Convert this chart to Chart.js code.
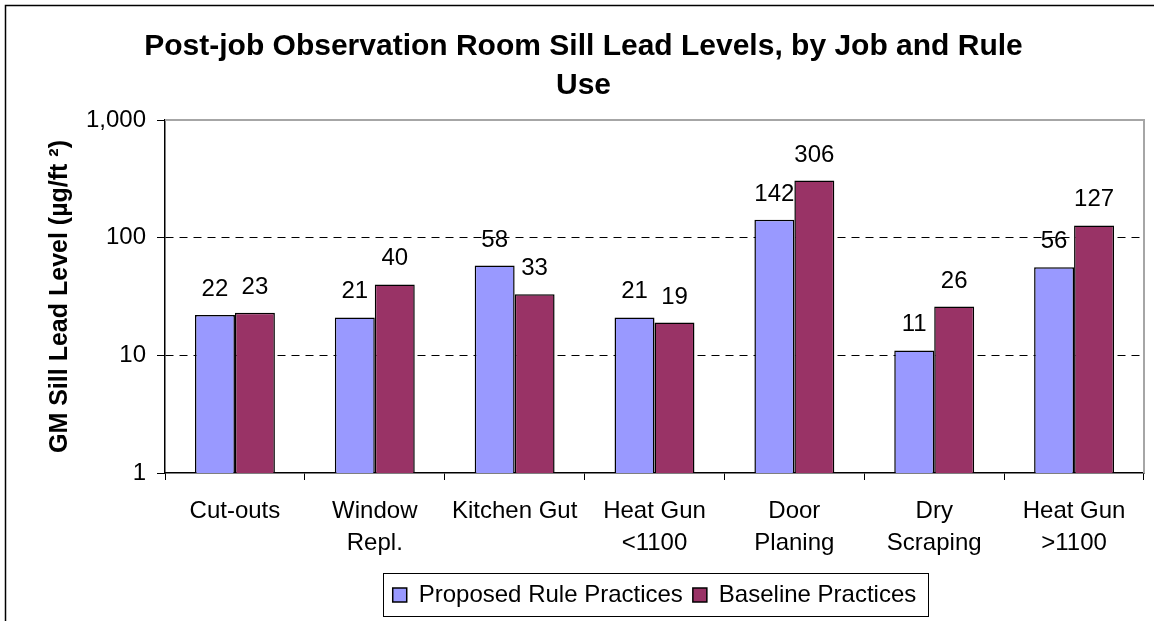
<!DOCTYPE html>
<html>
<head>
<meta charset="utf-8">
<script src="https://cdn.jsdelivr.net/npm/chart.js@4.4.0/dist/chart.umd.min.js"></script>
<style>
  html, body { margin: 0; padding: 0; background: #fff; }
</style>
</head>
<body>
<canvas id="myChart" width="1154" height="621"></canvas>
<script>
const jobs = [
  "Cut-outs",
  ["Window", "Repl."],
  "Kitchen Gut",
  ["Heat Gun", "<1100"],
  ["Door", "Planing"],
  ["Dry", "Scraping"],
  ["Heat Gun", ">1100"],
];
const proposedRule = [22, 21, 58, 21, 142, 11, 56];
const baseline = [23, 40, 33, 19, 306, 26, 127];
const yTicks = [1, 10, 100, 1000];

const FONT = "Arial, 'Liberation Sans', sans-serif";

// outer frame, plot box top/right, legend box
const framePlugin = {
  id: "frame",
  beforeDraw(chart) {
    const ctx = chart.ctx;
    ctx.save();
    ctx.fillStyle = "#fff";
    ctx.fillRect(0, 0, chart.width, chart.height);
    ctx.strokeStyle = "#000";
    ctx.lineWidth = 1.5;
    ctx.beginPath();
    ctx.moveTo(5.5, chart.height + 5);
    ctx.lineTo(5.5, 5.5);
    ctx.lineTo(chart.width + 5, 5.5);
    ctx.stroke();
    ctx.restore();
  },
  afterDraw(chart) {
    const ctx = chart.ctx;
    const a = chart.chartArea;
    ctx.save();
    ctx.strokeStyle = "#a6a6a6";
    ctx.lineWidth = 2;
    ctx.beginPath();
    ctx.moveTo(a.left, a.top);
    ctx.lineTo(a.right, a.top);
    ctx.lineTo(a.right, a.bottom);
    ctx.stroke();

    const lg = chart.legend;
    if (lg && lg.legendHitBoxes.length) {
      const boxes = lg.legendHitBoxes;
      const first = boxes[0];
      const last = boxes[boxes.length - 1];
      const x1 = Math.round(first.left - 10) + 0.5;
      const x2 = Math.round(last.left + last.width + 12) + 0.5;
      ctx.strokeStyle = "#000";
      ctx.lineWidth = 1;
      ctx.strokeRect(x1, lg.top + 0.5, x2 - x1, lg.height - 1);
    }
    ctx.restore();
  },
};

// value labels above each bar
const valueLabels = {
  id: "valueLabels",
  afterDatasetsDraw(chart) {
    const ctx = chart.ctx;
    ctx.save();
    ctx.font = "24px " + FONT;
    ctx.fillStyle = "#000";
    ctx.textAlign = "center";
    ctx.textBaseline = "alphabetic";
    chart.data.datasets.forEach((ds, i) => {
      chart.getDatasetMeta(i).data.forEach((bar, j) => {
        ctx.fillText(String(ds.data[j]), bar.x, bar.y - 19);
      });
    });
    ctx.restore();
  },
};

const ctx = document.getElementById("myChart").getContext("2d");
const chart = new Chart(ctx, {
  type: "bar",
  data: {
    labels: jobs,
    datasets: [
      {
        label: "Proposed Rule Practices",
        data: proposedRule,
        backgroundColor: "#9999ff",
        borderColor: "#000",
        borderWidth: 1.5,
      },
      {
        label: "Baseline Practices",
        data: baseline,
        backgroundColor: "#993366",
        borderColor: "#000",
        borderWidth: 1.5,
      },
    ],
  },
  options: {
    responsive: false,
    animation: false,
    devicePixelRatio: 1,
    events: [],
    layout: { padding: { left: 23, right: 10, top: 0, bottom: 4 } },
    datasets: {
      bar: { categoryPercentage: 0.5714, barPercentage: 1.0 },
    },
    plugins: {
      title: {
        display: true,
        text: ["Post-job Observation Room Sill Lead Levels, by Job and Rule", "Use"],
        color: "#000",
        font: { family: FONT, size: 30, weight: "bold", lineHeight: 39 / 30 },
        padding: { top: 27, bottom: 15 },
      },
      legend: {
        position: "bottom",
        fullSize: false,
        labels: {
          color: "#000",
          font: { family: FONT, size: 24 },
          boxWidth: 14,
          boxHeight: 14,
          padding: 10,
        },
      },
      tooltip: { enabled: false },
    },
    scales: {
      x: {
        grid: {
          offset: true,
          drawOnChartArea: false,
          drawTicks: true,
          tickLength: 7,
          tickColor: "#000",
        },
        border: { color: "#000", width: 1.5 },
        ticks: {
          color: "#000",
          font: { family: FONT, size: 24, lineHeight: 32 / 24 },
          padding: 15,
          maxRotation: 0,
          autoSkip: false,
        },
        afterFit(scale) {
          scale.height = 100;
        },
      },
      y: {
        type: "logarithmic",
        min: 1,
        max: 1000,
        afterBuildTicks(scale) {
          scale.ticks = yTicks.map((v) => ({ value: v }));
        },
        afterFit(scale) {
          scale.width = 142;
        },
        grid: {
          color: (c) => (c.tick && (c.tick.value === 10 || c.tick.value === 100) ? "#000" : "rgba(0,0,0,0)"),
          lineWidth: 1,
          tickLength: 8,
          tickColor: "#000",
        },
        border: { color: "#000", width: 1.5, dash: [8, 6] },
        ticks: {
          color: "#000",
          font: { family: FONT, size: 24 },
          padding: 11,
          callback: (v) => v.toLocaleString("en-US"),
        },
        title: {
          display: true,
          text: "GM Sill Lead Level (µg/ft ²)",
          color: "#000",
          font: { family: FONT, size: 25, weight: "bold", lineHeight: 1.2 },
          padding: { top: 22, bottom: 0 },
        },
      },
    },
  },
  plugins: [framePlugin, valueLabels],
});
</script>
</body>
</html>
